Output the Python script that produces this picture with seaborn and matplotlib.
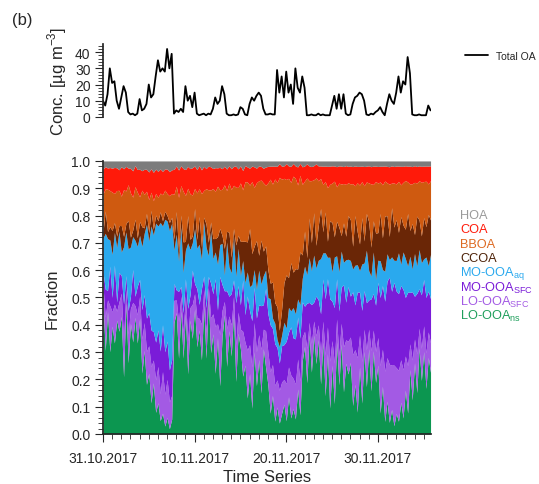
import numpy as np
import pandas as pd
import matplotlib
matplotlib.use("Agg")
import matplotlib.pyplot as plt
import matplotlib.dates as mdates
import seaborn as sns

# ---- data: 6-hourly values, 31.10.2017 00:00 onwards ----
start = "2017-10-31 00:00"

total_oa = [
    10, 7, 14, 30, 21, 22, 10, 5, 12, 19, 15, 3,
    1.5, 2, 1, 2, 11, 4, 5, 8, 20, 12, 14, 25,
    35, 28, 30, 28, 42, 30, 39, 2, 4, 3, 5, 3,
    19, 10, 13, 6, 15, 2, 1, 1.5, 2, 1, 2, 1.5,
    5, 12, 8, 10, 19, 14, 2, 1, 1, 1.5, 1, 1.5,
    6, 5, 1.5, 1, 8, 12, 10, 13, 15, 13, 5, 1.5,
    1.5, 2, 1.5, 1.5, 29, 15, 25, 12, 28, 15, 20, 8,
    30, 18, 15, 25, 18, 1, 1, 1.5, 1, 1, 2, 1,
    1.5, 1, 1, 1, 7, 13, 5, 14, 5, 14, 2, 1,
    1.5, 8, 12, 13, 15, 14, 10, 1.5, 1, 2, 1.5, 3,
    4, 6, 3, 1, 8, 14, 10, 8, 15, 25, 15, 22,
    20, 37, 27, 1.5, 1, 1, 1.5, 1, 1, 1, 7, 4,
]

# factor contributions (%), same time base
lo_ooa_ns = [
    48, 30, 52, 25, 45, 28, 50, 35, 40, 22, 48, 30,
    45, 28, 50, 32, 42, 25, 30, 18, 22, 12, 18, 8,
    12, 5, 8, 3, 6, 2, 5, 40, 48, 25, 50, 30,
    42, 22, 45, 28, 50, 30, 45, 25, 48, 30, 52, 28,
    40, 18, 42, 15, 38, 45, 25, 42, 30, 45, 20, 38,
    35, 18, 30, 12, 25, 10, 28, 20, 30, 15, 35, 22,
    18, 8, 15, 5, 10, 4, 8, 12, 5, 15, 6, 10,
    6, 15, 8, 25, 35, 18, 40, 22, 42, 25, 38, 20,
    35, 15, 30, 10, 28, 12, 32, 20, 35, 15, 30, 22,
    28, 10, 20, 8, 25, 12, 30, 18, 35, 15, 32, 20,
    25, 8, 18, 5, 12, 4, 10, 3, 8, 5, 12, 6,
    18, 8, 25, 12, 30, 15, 35, 20, 32, 18, 30, 25,
]
lo_ooa_sfc = [
    6, 12, 5, 14, 6, 12, 4, 10, 8, 14, 5, 12,
    6, 12, 5, 10, 8, 14, 10, 12, 10, 14, 8, 12,
    14, 10, 16, 12, 14, 10, 8, 8, 5, 12, 6, 10,
    6, 12, 5, 10, 6, 10, 5, 12, 6, 10, 4, 12,
    8, 14, 6, 16, 10, 5, 14, 6, 12, 6, 14, 8,
    8, 14, 10, 16, 12, 16, 10, 14, 10, 16, 8, 12,
    12, 16, 12, 14, 10, 12, 12, 10, 14, 12, 16, 12,
    14, 10, 14, 8, 6, 12, 5, 10, 6, 10, 6, 12,
    8, 16, 10, 18, 10, 16, 8, 12, 8, 16, 10, 12,
    10, 18, 14, 20, 12, 16, 8, 14, 8, 14, 8, 12,
    10, 18, 14, 20, 16, 20, 18, 22, 18, 20, 16, 18,
    14, 18, 10, 14, 10, 14, 8, 12, 10, 14, 10, 12,
]
mo_ooa_sfc = [
    5, 10, 4, 12, 6, 12, 4, 10, 6, 14, 5, 10,
    5, 10, 4, 10, 6, 12, 10, 12, 12, 14, 10, 14,
    14, 16, 18, 16, 14, 12, 12, 6, 4, 10, 4, 8,
    6, 12, 5, 10, 4, 10, 6, 12, 5, 10, 4, 12,
    8, 14, 6, 18, 10, 4, 14, 8, 12, 6, 16, 10,
    10, 16, 12, 18, 14, 18, 12, 14, 12, 16, 10, 14,
    14, 18, 14, 16, 12, 10, 14, 14, 16, 14, 18, 16,
    18, 14, 18, 12, 10, 16, 8, 14, 8, 14, 10, 16,
    16, 22, 18, 24, 16, 22, 14, 18, 14, 22, 16, 20,
    16, 22, 18, 24, 16, 20, 14, 18, 12, 18, 14, 18,
    20, 26, 24, 28, 28, 30, 30, 30, 30, 30, 28, 30,
    24, 28, 20, 24, 18, 22, 16, 20, 18, 22, 16, 18,
]
mo_ooa_aq = [
    12, 20, 22, 8, 18, 10, 24, 14, 8, 22, 16, 26,
    20, 10, 24, 14, 16, 26, 22, 34, 26, 40, 34, 44,
    40, 48, 38, 50, 44, 52, 46, 12, 22, 10, 24, 16,
    10, 24, 18, 8, 22, 14, 26, 10, 20, 24, 8, 18,
    14, 8, 20, 10, 16, 6, 18, 12, 8, 16, 10, 14,
    12, 6, 14, 8, 10, 14, 6, 12, 14, 8, 12, 6,
    6, 10, 4, 8, 3, 6, 4, 9, 5, 10, 6, 12,
    10, 6, 14, 8, 16, 10, 18, 12, 20, 10, 16, 22,
    10, 18, 8, 16, 12, 20, 8, 16, 14, 8, 18, 10,
    14, 8, 16, 10, 8, 18, 10, 20, 12, 8, 16, 10,
    8, 14, 6, 12, 10, 6, 14, 8, 12, 16, 8, 14,
    16, 10, 14, 8, 18, 10, 16, 12, 8, 16, 10, 18,
]
ccoa = [
    2, 8, 3, 4, 10, 3, 5, 2, 9, 4, 3, 12,
    4, 2, 9, 3, 5, 8, 2, 4, 3, 6, 2, 3,
    2, 4, 2, 3, 2, 3, 2, 4, 9, 3, 5, 12,
    3, 10, 4, 2, 8, 3, 12, 4, 2, 9, 5, 3,
    8, 4, 12, 5, 3, 10, 4, 14, 6, 3, 12, 5,
    14, 6, 18, 10, 24, 12, 8, 20, 6, 16, 10, 8,
    10, 6, 14, 8, 12, 6, 10, 16, 20, 12, 18, 14,
    18, 10, 22, 8, 14, 6, 16, 10, 18, 8, 14, 20,
    8, 16, 6, 14, 20, 8, 12, 18, 6, 14, 10, 16,
    16, 8, 20, 12, 10, 18, 8, 14, 20, 10, 12, 18,
    10, 18, 12, 22, 14, 8, 20, 12, 16, 8, 18, 10,
    12, 20, 10, 16, 8, 18, 12, 10, 16, 12, 20, 14,
]
bboa = [
    14, 8, 18, 11, 16, 9, 20, 12, 10, 18, 12, 15,
    18, 10, 14, 16, 9, 15, 12, 8, 12, 7, 10, 8,
    9, 7, 10, 8, 8, 10, 8, 16, 10, 18, 12, 20,
    16, 10, 18, 12, 8, 16, 12, 18, 10, 14, 20, 11,
    20, 14, 22, 12, 18, 24, 15, 20, 26, 16, 22, 18,
    24, 16, 26, 20, 18, 28, 20, 24, 30, 22, 28, 20,
    32, 40, 38, 48, 46, 56, 50, 42, 36, 40, 30, 38,
    36, 28, 32, 24, 20, 28, 15, 22, 14, 24, 18, 12,
    18, 12, 20, 14, 16, 22, 12, 18, 20, 14, 22, 12,
    14, 22, 12, 18, 22, 14, 20, 12, 16, 22, 14, 20,
    18, 12, 20, 14, 12, 18, 10, 16, 14, 20, 12, 16,
    20, 12, 18, 14, 22, 12, 16, 20, 14, 18, 12, 16,
]
coa = [
    9, 8, 9, 7, 10, 8, 10, 7, 10, 8, 9, 7,
    10, 8, 9, 8, 10, 8, 9, 8, 10, 9, 10, 9,
    10, 9, 9, 8, 9, 9, 8, 9, 8, 9, 8, 9,
    9, 8, 10, 8, 9, 8, 10, 8, 9, 8, 9, 8,
    8, 7, 8, 7, 8, 7, 8, 7, 8, 7, 8, 7,
    7, 6, 7, 5, 7, 6, 7, 6, 6, 5, 6, 6,
    6, 5, 7, 5, 6, 5, 5, 5, 6, 5, 6, 5,
    5, 6, 5, 6, 6, 5, 6, 5, 6, 5, 6, 5,
    7, 6, 8, 7, 7, 6, 7, 7, 7, 6, 8, 6,
    7, 6, 8, 6, 7, 6, 7, 6, 7, 6, 7, 6,
    6, 6, 7, 6, 6, 6, 7, 6, 7, 6, 7, 6,
    6, 6, 7, 6, 7, 6, 6, 6, 6, 6, 7, 6,
]
hoa = [
    3, 2, 3, 2, 3, 2, 3, 3, 2, 3, 2, 3,
    3, 3, 2, 3, 3, 4, 3, 3, 4, 3, 4, 3,
    4, 3, 4, 3, 3, 4, 3, 3, 2, 3, 2, 3,
    3, 2, 3, 2, 2, 3, 2, 3, 2, 3, 2, 2,
    3, 2, 3, 2, 3, 2, 3, 2, 3, 2, 2, 3,
    2, 3, 2, 2, 3, 2, 2, 3, 2, 2, 3, 2,
    2, 2, 2, 2, 2, 1, 2, 2, 1, 2, 2, 1,
    2, 2, 1, 2, 2, 1, 2, 2, 2, 1, 2, 2,
    2, 2, 2, 2, 2, 2, 2, 2, 2, 2, 2, 2,
    2, 2, 2, 2, 2, 2, 2, 2, 2, 2, 2, 2,
    2, 2, 2, 2, 2, 2, 2, 2, 2, 2, 2, 2,
    2, 2, 2, 2, 2, 2, 2, 2, 2, 2, 2, 2,
]

factor_names = ["HOA", "COA", "BBOA", "CCOA",
                r"MO-OOA$_\mathregular{aq}$", r"MO-OOA$_\mathregular{SFC}$",
                r"LO-OOA$_\mathregular{SFC}$", r"LO-OOA$_\mathregular{ns}$"]
fill_colors = ["#7c7c7c", "#ff1a0a", "#cf5a10", "#6a2606",
               "#2aa9ee", "#7a1cd8", "#a35ae4", "#0c9650"]
label_colors = ["#9a9a9a", "#ff1a0a", "#dd6a22", "#4d2208",
                "#2aa9ee", "#7a1cd8", "#a35ae4", "#1f9f5c"]

times = pd.date_range(start, periods=len(total_oa), freq="6h")
series = [hoa, coa, bboa, ccoa, mo_ooa_aq, mo_ooa_sfc, lo_ooa_sfc, lo_ooa_ns]
frac = pd.DataFrame({n: s for n, s in zip(factor_names, series)}, index=times, dtype=float)
frac = frac.div(frac.sum(axis=1), axis=0)

sns.set_theme(style="ticks")
plt.rcParams["font.family"] = ["Liberation Sans", "DejaVu Sans"]
plt.rcParams["mathtext.fontset"] = "custom"
plt.rcParams["mathtext.rm"] = "Liberation Sans"

fig = plt.figure(figsize=(5.39, 4.85), dpi=100)
ax_top = fig.add_axes([0.191, 0.757, 0.6085, 0.150])
ax = fig.add_axes([0.191, 0.1031, 0.6085, 0.563])

xmin = pd.Timestamp("2017-10-31 00:00")
xmax = pd.Timestamp("2017-12-05 19:00")

# ---- concentration time series ----
df_tot = pd.DataFrame({"time": times, "Total OA": total_oa})
sns.lineplot(data=df_tot, x="time", y="Total OA", ax=ax_top, color="black",
             lw=1.3, label="Total OA", legend=False)
ax_top.set_xlim(xmin, xmax)
ax_top.set_ylim(0, 45)
ax_top.set_yticks([0, 10, 20, 30, 40])
ax_top.set_yticks(np.arange(0, 46, 2), minor=True)
ax_top.set_ylabel("Conc. [µg m$^{-3}$]", fontsize=12, labelpad=4)
ax_top.set_xlabel("")
for s in ["top", "right", "bottom"]:
    ax_top.spines[s].set_visible(False)
ax_top.tick_params(axis="x", which="both", bottom=False, labelbottom=False)
ax_top.tick_params(axis="y", which="major", length=6, width=0.8, labelsize=10, pad=3)
ax_top.tick_params(axis="y", which="minor", length=3.5, width=0.6)
ax_top.legend(loc="center left", bbox_to_anchor=(1.09, 0.84), frameon=False,
              fontsize=7.5, handlelength=2.2, borderaxespad=0)

# ---- stacked fractions (bottom to top) ----
order = factor_names[::-1]
cols = fill_colors[::-1]
ax.stackplot(frac.index, *[frac[n].values for n in order], colors=cols, lw=0)
ax.set_xlim(xmin, xmax)
ax.set_ylim(0, 1)
ax.set_yticks(np.arange(0, 1.01, 0.1))
ax.set_yticklabels([f"{v:.1f}" for v in np.arange(0, 1.01, 0.1)])
ax.set_yticks(np.arange(0, 1.001, 0.02), minor=True)
major_dates = pd.to_datetime(["2017-10-31", "2017-11-10", "2017-11-20", "2017-11-30"])
ax.set_xticks(major_dates)
ax.xaxis.set_major_formatter(mdates.DateFormatter("%d.%m.%Y"))
ax.xaxis.set_minor_locator(mdates.DayLocator())
for s in ["top", "right"]:
    ax.spines[s].set_visible(False)
ax.tick_params(axis="both", which="major", length=6, width=0.8, labelsize=10, pad=3)
ax.tick_params(axis="x", which="major", pad=6)
ax.tick_params(axis="both", which="minor", length=3.5, width=0.6)
ax.set_xlabel("Time Series", fontsize=12, labelpad=3)
ax.set_ylabel("Fraction", fontsize=12, labelpad=8)

# factor names coloured like their areas
for i, (name, c) in enumerate(zip(factor_names, label_colors)):
    fig.text(460 / 539, 1 - (216 + 14.4 * i) / 485, name, color=c, fontsize=9.2,
             va="center", ha="left")

fig.text(12 / 539, 1 - 20 / 485, "(b)", fontsize=12, va="center", ha="left")

fig.savefig("out.png", dpi=100)
